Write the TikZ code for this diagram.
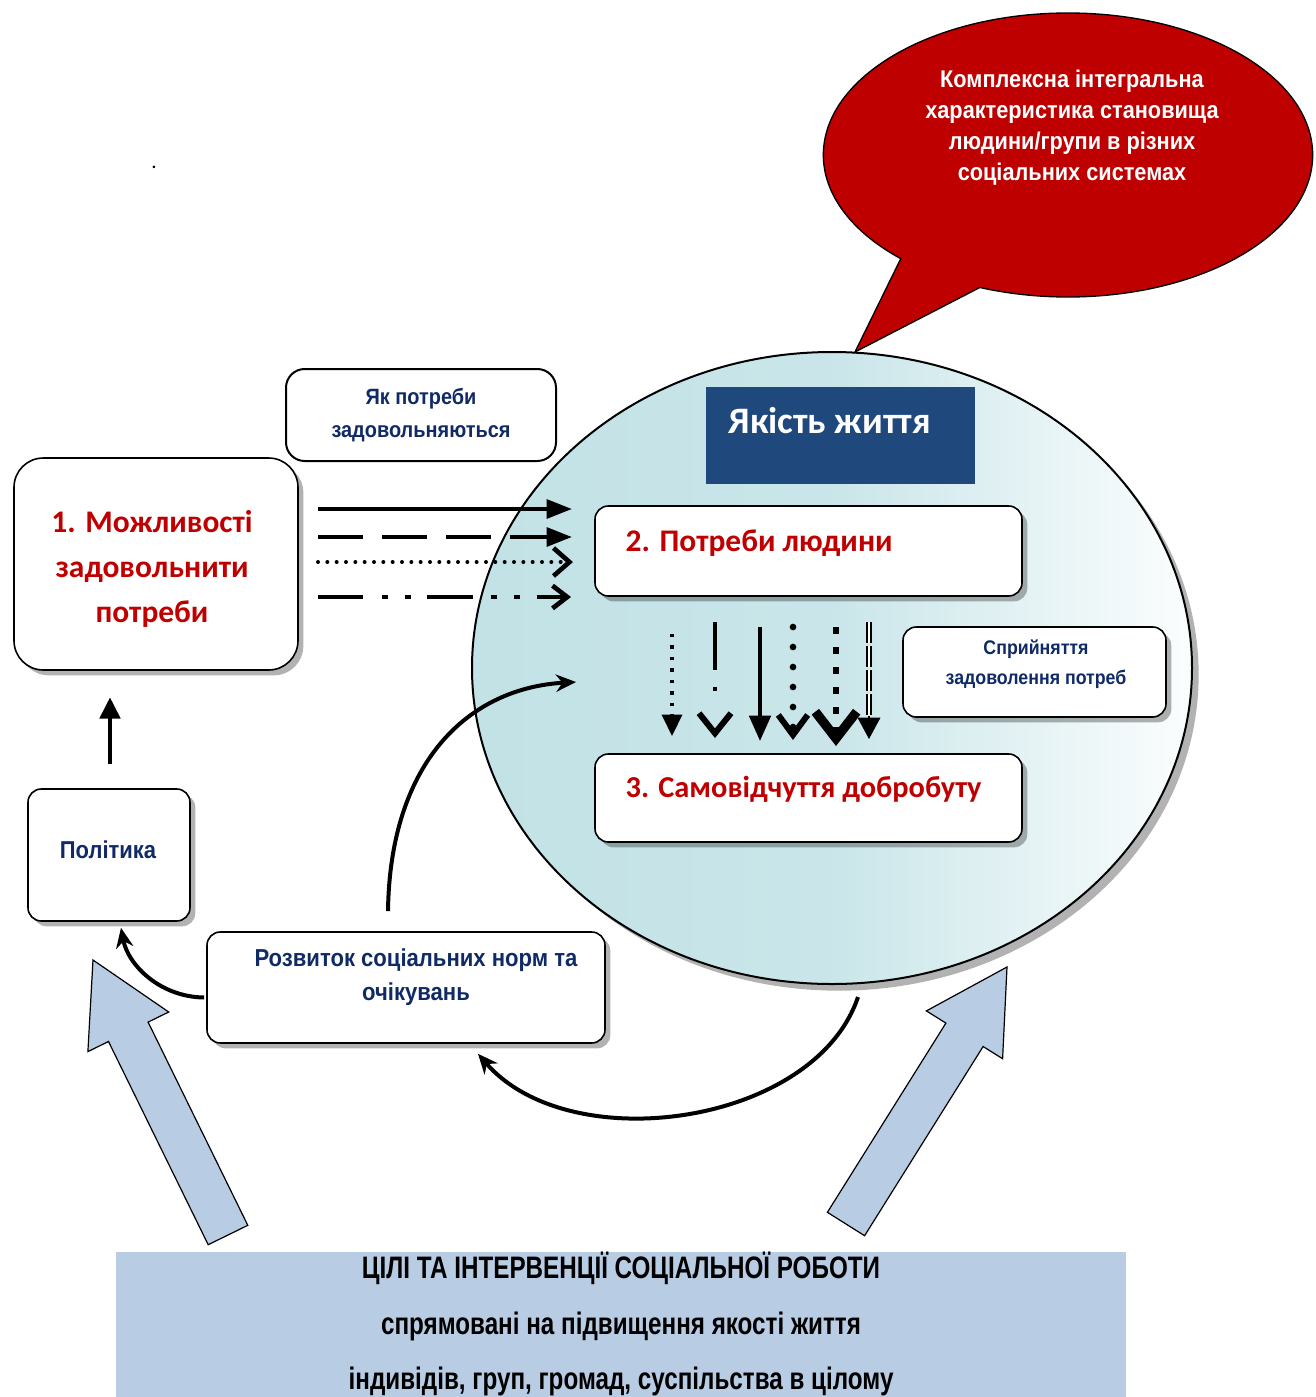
\documentclass[tikz,border=0pt]{standalone}
\usepackage{fontspec}
\setmainfont{Carlito}
\newfontfamily\narrowfont{Liberation Sans}[FakeStretch=0.9]
\newfontfamily\condfont{Liberation Sans}[FakeStretch=0.78]
\usetikzlibrary{shapes.geometric,shapes.callouts,arrows.meta,shadows,fit,calc}
\definecolor{navy}{HTML}{102A66}
\definecolor{bred}{HTML}{C00000}
\definecolor{bubred}{HTML}{BE0000}
\definecolor{qblue}{HTML}{1F497D}
\definecolor{steel}{HTML}{B8CCE4}
\definecolor{cteal}{HTML}{C2E2E6}
\begin{document}
\begin{tikzpicture}[x=0.75pt,y=-0.75pt,
  rbox/.style={draw=black, line width=1.2pt, fill=white, rounded corners=10pt, inner sep=0pt,
    drop shadow={shadow xshift=4pt, shadow yshift=-4pt, fill=black, opacity=0.3}},
  redtxt/.style={text=bred, font=\bfseries\fontsize{23.6}{34}\selectfont},
  navytxt/.style={text=navy, align=center},
  blockarrow/.style={fill=steel, draw=black, line width=0.9pt, line join=miter},
  curvearrow/.style={line width=3pt, -{Stealth[length=15pt,width=13pt]}},
  hline/.style={line width=3pt},
  tri/.style={-{Triangle[length=19pt,width=14pt]}},
]
\useasboundingbox (0,0) rectangle (1315,1397);
\fill[white] (0,0) rectangle (1315,1397);

% stray dot
\node[font=\fontsize{16}{16}\selectfont] (dot) at (154,167) {.};

% big ellipse
\node[ellipse, draw=black, line width=1.5pt, minimum width=540pt, minimum height=474pt,
  left color=cteal, right color=white!94!cteal, middle color=cteal!88!white,
  drop shadow={shadow xshift=5pt, shadow yshift=-5pt, fill=black, opacity=0.3}] (qol) at (832,668) {};

% speech bubble
\node[ellipse callout, draw=black, line width=1pt, fill=bubred, minimum width=367pt, minimum height=213pt,
  callout absolute pointer={(855,352)}, callout pointer arc=22] (bubble) at (1068,155) {};
\node[text=white, align=center, font=\narrowfont\bfseries\fontsize{18.1}{23.2}\selectfont] (bubbletext) at (1072,128)
  {Комплексна інтегральна\\характеристика становища\\людини/групи в різних\\соціальних системах};

% quality of life title
\node[fill=qblue, inner sep=0pt, fit={(706,387)(975,484)}] (qtitle) {};
\node[anchor=west, text=white, font=\bfseries\fontsize{28}{28}\selectfont] (qtitletext) at (724,421) {Якість життя};

% box 2
\node[rbox, fit={(595,506)(1022,596)}] (needs) {};
\node[redtxt, anchor=west] (needstext) at (621,543) {2. Потреби людини};
% box 3
\node[rbox, fit={(595,754)(1022,842)}] (wellb) {};
\node[redtxt, anchor=west, font=\bfseries\fontsize{22.8}{34}\selectfont] (wellbtext) at (621,789) {3. Самовідчуття добробуту};
% perception box
\node[rbox, fit={(903,627)(1166,717)}] (percep) {};
\node[navytxt, font=\narrowfont\bfseries\fontsize{14.8}{22.5}\selectfont] (perceptext) at (1036,664) {Сприйняття\\задоволення потреб};

% box 1
\node[rbox, rounded corners=22pt, fit={(14,458)(298,670)}] (opp) {};
\node[redtxt, align=center] (opptext) at (152,569) {1. Можливості\\задовольнити\\потреби};

% how needs satisfied
\node[draw=black, line width=1.5pt, fill=white, rounded corners=14pt, inner sep=0pt, fit={(286,369)(556,461)}] (how) {};
\node[navytxt, font=\narrowfont\bfseries\fontsize{16.6}{25}\selectfont] (howtext) at (421,415) {Як потреби\\задовольняються};

% politics
\node[rbox, fit={(28,789)(190,921)}] (polit) {};
\node[navytxt, font=\narrowfont\bfseries\fontsize{18.3}{18}\selectfont] (polittext) at (108,850) {Політика};

% norms
\node[rbox, fit={(207,932)(605,1043)}] (norms) {};
\node[navytxt, font=\narrowfont\bfseries\fontsize{18.4}{26}\selectfont] (normstext) at (416,977) {Розвиток соціальних норм та\\очікувань};

% goals
\node[fill=steel, inner sep=0pt, fit={(116,1252)(1126,1397)}] (goals) {};
\node[align=center, font=\condfont\bfseries\fontsize{23.3}{41.6}\selectfont] (goalstext) at (621,1324)
  {ЦІЛІ ТА ІНТЕРВЕНЦІЇ СОЦІАЛЬНОЇ РОБОТИ\\спрямовані на підвищення якості життя\\індивідів, груп, громад, суспільства в цілому};

% block arrows
\draw[blockarrow] (93,960) -- (168.7,1012) -- (148.1,1022.1) -- (247.8,1225.3) -- (208.2,1244.7) -- (108.5,1041.5) -- (87.9,1051.6) -- cycle;
\draw[blockarrow] (1007,967) -- (1002.6,1058.7) -- (983.1,1046.5) -- (864.6,1235.7) -- (827.4,1212.3) -- (945.9,1023.1) -- (926.4,1010.9) -- cycle;

% horizontal arrows
\coordinate (h1a) at (318,509); \coordinate (h1b) at (572,509);
\coordinate (h2a) at (318,537); \coordinate (h2b) at (572,537);
\coordinate (h3a) at (318,562); \coordinate (h3b) at (573,562);
\coordinate (h4a) at (318,597); \coordinate (h4b) at (571,597);
\draw[hline, tri] (h1a) -- (h1b);
\draw[hline, tri, dash pattern=on 34pt off 14pt] (h2a) -- (h2b);
\draw[line width=3pt, line cap=round, dash pattern=on 0pt off 7pt,
  -{Straight Barb[length=12pt,width=21pt,line width=3.5pt]}] (h3a) -- (h3b);
\draw[hline, dash pattern=on 34pt off 14pt on 4.5pt off 12.5pt on 4.5pt off 12.5pt,
  -{Straight Barb[length=11pt,width=17pt,line width=3.5pt]}] (h4a) -- (h4b);

% vertical arrows
\coordinate (v1a) at (672,634); \coordinate (v1b) at (672,736);
\coordinate (v2a) at (715,622); \coordinate (v2b) at (715,738);
\coordinate (v3a) at (760,627); \coordinate (v3b) at (760,741);
\coordinate (v4a) at (793,627); \coordinate (v4b) at (793,740);
\coordinate (v5a) at (836,627); \coordinate (v5b) at (836,746);
\coordinate (v6a) at (869,622); \coordinate (v6m) at (869,716); \coordinate (v6b) at (869,739);
\draw[line width=2.6pt, dash pattern=on 2.6pt off 6pt, -{Triangle[length=16pt,width=15pt]}] (v1a) -- (v1b);
\draw[line width=3pt, dash pattern=on 36pt off 13pt on 3pt off 60pt,
  -{Straight Barb[length=15pt,width=24pt,line width=4.5pt]}] (v2a) -- (v2b);
\draw[line width=3pt, -{Triangle[length=19pt,width=16pt]}] (v3a) -- (v3b);
\draw[line width=5pt, line cap=round, dash pattern=on 0pt off 15pt,
  -{Straight Barb[length=15pt,width=22pt,line width=4.5pt]}] (v4a) -- (v4b);
\draw[line width=5pt, dash pattern=on 5pt off 10pt,
  -{Straight Barb[length=20pt,width=31pt,line width=7pt]}] (v5a) -- (v5b);
\draw[line width=1.5pt, double=white, double distance=2pt, dash pattern=on 16pt off 2pt] (v6a) -- (v6m);
\draw[line width=1pt, -{Triangle[length=16pt,width=17pt]}] (v6m) -- (v6b);

% up arrow
\draw[line width=3.5pt, -{Triangle[length=16pt,width=15pt]}] ($(polit.north)+(1,-24)$) -- ($(polit.north)+(1,-91)$);

% curved arrows
\draw[curvearrow] ($(norms.west)+(-2,10)$) .. controls (160,997) and (128,965) .. ($(polit.south)+(12,6)$);
\coordinate (bend) at (576,682);
\draw[curvearrow] ($(norms.north)+(-18,-20)$) .. controls (390,760) and (470,688) .. (bend);
\coordinate (cstart) at (858,997);
\draw[curvearrow] (cstart) .. controls (815,1125) and (570,1160) .. ($(norms.south)+(72,10)$);
\end{tikzpicture}
\end{document}
